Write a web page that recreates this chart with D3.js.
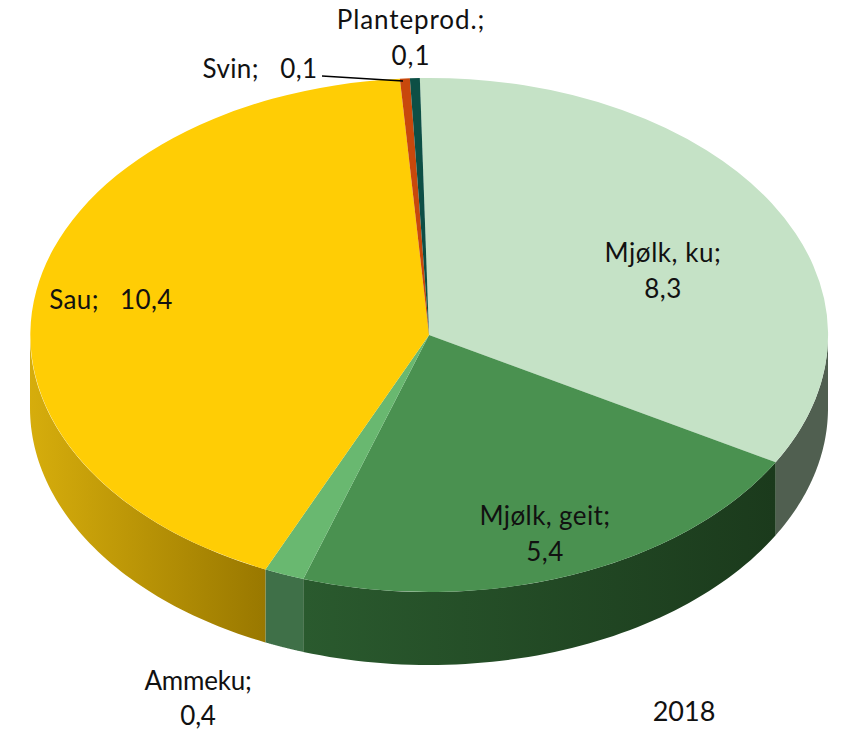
<!DOCTYPE html>
<html><head><meta charset="utf-8">
<style>html,body{margin:0;padding:0;background:#fff}svg{display:block}text{font-family:Lato,"Open Sans",sans-serif;fill:#111}</style>
<script src="https://cdn.jsdelivr.net/npm/d3@7/dist/d3.min.js"></script>
</head><body><svg id="c" width="841" height="731"></svg>
<script>
const categories = ["Mjølk, ku","Mjølk, geit","Ammeku","Sau","Svin","Planteprod."];
const values = [8.3,5.4,0.4,10.4,0.1,0.1];
const topColors = ["#c5e2c6","#4a9150","#69b870","#ffcd05","#c8480c","#0d4f45"];
const wallFrom = ["#505f50","#2a5a2e","#3f7048","#d6ad0c","#8a3208","#083029"];
const wallTo = ["#505f50","#1b3a1c","#3f7048","#997800","#8a3208","#083029"];
const labelLines = [["Mjølk, ku;","8,3"],["Mjølk, geit;","5,4"],["Ammeku;","0,4"],["Sau;   10,4"],["Svin;   0,1"],["Planteprod.;","0,1"]];
const yearLabel = "2018";

const svg = d3.select("#c");
const x = d3.scaleLinear().domain([-1,1]).range([30,828]);
const y = d3.scaleLinear().domain([-1,1]).range([78,592]);
const depth = 73;
const start = -1.3*Math.PI/180;
const pie = d3.pie().value(d=>d).sort(null).startAngle(start).endAngle(start+2*Math.PI);
const arcs = pie(values);
const px = a => x(Math.sin(a)), py = a => y(-Math.cos(a));

const defs = svg.append("defs");
const visLo = Math.PI/2, visHi = 3*Math.PI/2;

arcs.forEach((d,i)=>{
  const a0 = Math.max(d.startAngle,visLo), a1 = Math.min(d.endAngle,visHi);
  if(a1<=a0) return;
  const id = "w"+i;
  const g = defs.append("linearGradient").attr("id",id).attr("gradientUnits","userSpaceOnUse")
    .attr("x1",px(a1)).attr("x2",px(a0)).attr("y1",0).attr("y2",0);
  g.append("stop").attr("offset",0).attr("stop-color",wallFrom[i]);
  g.append("stop").attr("offset",1).attr("stop-color",wallTo[i]);
  const n = 60, pts = d3.range(n+1).map(k=>a0+(a1-a0)*k/n);
  const p = d3.path();
  pts.forEach((a,k)=> k? p.lineTo(px(a),py(a)) : p.moveTo(px(a),py(a)));
  pts.slice().reverse().forEach(a=>p.lineTo(px(a),py(a)+depth));
  p.closePath();
  svg.append("path").attr("d",p.toString()).attr("fill",`url(#${id})`);
});

const arcGen = d3.arc().innerRadius(0).outerRadius(1);
svg.append("g").attr("transform",`translate(${x(0)},${y(0)}) scale(${(x(1)-x(-1))/2},${(y(1)-y(-1))/2})`)
  .selectAll("path").data(arcs).join("path")
  .attr("d",arcGen).attr("fill",(d,i)=>topColors[i]);

// leader line for Svin
svg.append("line").attr("x1",322).attr("y1",76).attr("x2",403).attr("y2",81)
  .attr("stroke","#000").attr("stroke-width",1.6);

const fontSize = 26;
const anchors = [[663,262],[545,525],[198,690],[111,309],[260,78],[411,29]];
const spacing = [0.55,0.4,-0.2,0.4,0.4,0.9];
const lh = [36,36,35,36,36,36];
labelLines.forEach((lines,i)=>{
  lines.forEach((t,k)=>{
    svg.append("text").attr("x",anchors[i][0]).attr("y",anchors[i][1]+k*lh[i])
      .attr("text-anchor","middle").attr("font-size",fontSize).attr("xml:space","preserve")
      .style("white-space","pre").attr("letter-spacing",spacing[i]).text(t);
  });
});
svg.append("text").attr("x",684).attr("y",721).attr("text-anchor","middle").attr("font-size",fontSize+1).text(yearLabel);
</script></body></html>
